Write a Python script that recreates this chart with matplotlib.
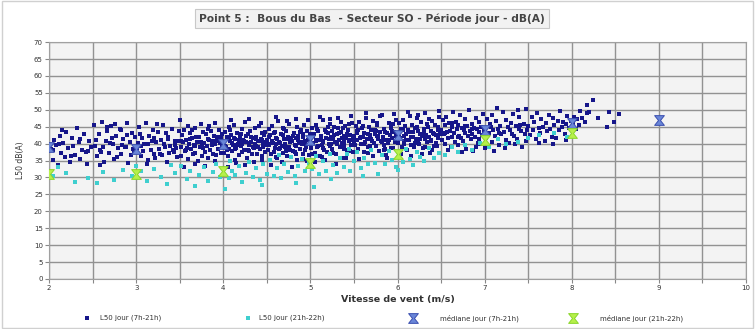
import numpy as np
import matplotlib
matplotlib.use("Agg")
import matplotlib.pyplot as plt
from matplotlib.path import Path
from matplotlib.patches import Rectangle

# L50 day-time samples (7h-21h): (wind speed m/s, level dB(A))
day_pts = [
    (2.02,38.5),(2.04,35.2),(2.06,41.0),(2.08,39.6),(2.1,33.8),(2.12,42.3),(2.14,37.1),(2.16,40.2),(2.18,36.0),(2.2,43.5),
    (2.22,38.8),(2.24,34.6),(2.26,41.8),(2.28,39.2),(2.3,36.7),(2.32,44.6),(2.34,40.5),(2.36,35.4),(2.38,38.0),(2.4,42.8),
    (2.42,37.6),(2.44,33.9),(2.46,40.9),(2.48,39.0),(2.05,38.2),(2.15,44.0),(2.25,36.4),(2.35,41.4),(2.45,37.9),(2.11,40.0),
    (2.51,45.6),(2.53,39.4),(2.55,36.2),(2.57,42.9),(2.59,38.1),(2.61,46.3),(2.63,34.7),(2.65,40.8),(2.67,43.7),(2.69,37.3),
    (2.71,45.1),(2.73,39.9),(2.75,35.5),(2.77,42.2),(2.79,38.6),(2.81,44.4),(2.83,36.9),(2.85,41.3),(2.87,39.0),(2.89,46.0),
    (2.91,34.2),(2.93,40.4),(2.95,43.1),(2.97,37.8),(2.99,41.9),(2.54,41.1),(2.6,37.5),(2.66,44.9),(2.72,41.7),(2.78,36.1),
    (2.84,39.5),(2.9,42.6),(2.96,38.4),(2.58,33.6),(2.7,40.1),(2.82,43.9),(2.94,36.6),(2.62,39.1),(2.76,45.8),(2.88,38.9),
    (3.01,38.7),(3.03,44.8),(3.05,36.3),(3.07,41.6),(3.09,39.8),(3.11,46.1),(3.13,35.1),(3.15,42.4),(3.17,38.2),(3.19,44.0),
    (3.21,37.0),(3.23,40.6),(3.25,43.3),(3.27,36.8),(3.29,41.1),(3.31,45.4),(3.33,38.9),(3.35,34.5),(3.37,42.0),(3.39,39.3),
    (3.41,44.2),(3.43,37.4),(3.45,40.9),(3.47,36.0),(3.49,43.6),(3.02,40.3),(3.08,37.7),(3.14,39.9),(3.2,41.8),(3.26,38.4),
    (3.32,40.0),(3.38,37.2),(3.44,39.6),(3.04,42.9),(3.12,33.9),(3.18,40.8),(3.24,45.9),(3.3,36.5),(3.36,41.4),(3.42,38.1),
    (3.48,40.7),(3.06,39.2),(3.22,35.8),(3.34,43.0),(3.46,38.6),
    (3.5,47.0),(3.51,39.1),(3.52,36.2),(3.53,42.5),(3.54,40.4),(3.55,44.1),(3.56,37.8),(3.57,41.2),(3.58,38.6),(3.59,45.3),
    (3.6,35.4),(3.61,40.0),(3.62,43.0),(3.63,38.3),(3.64,41.7),(3.65,36.9),(3.66,39.5),(3.67,44.7),(3.68,37.2),(3.69,42.1),
    (3.7,40.6),(3.71,34.8),(3.72,41.9),(3.73,38.9),(3.74,45.9),(3.75,39.7),(3.76,36.4),(3.77,43.4),(3.78,40.2),(3.79,37.6),
    (3.8,42.8),(3.81,39.3),(3.82,44.4),(3.83,35.9),(3.84,41.0),(3.85,38.0),(3.86,43.8),(3.87,40.8),(3.88,37.0),(3.89,42.3),
    (3.9,39.9),(3.91,46.2),(3.92,36.7),(3.93,41.5),(3.94,38.4),(3.95,44.0),(3.96,40.1),(3.97,37.3),(3.98,42.7),(3.99,39.0),
    (3.52,40.9),(3.57,38.0),(3.62,41.4),(3.67,39.4),(3.72,40.4),(3.77,38.7),(3.82,41.3),(3.87,39.6),(3.92,40.7),(3.97,41.8),
    (3.55,33.2),(3.68,34.1),(3.79,33.5),(3.9,35.0),(3.64,43.9),(3.84,45.1),(3.74,40.5),(3.94,42.0),
    (4.0,40.2),(4.01,37.1),(4.02,43.5),(4.03,39.0),(4.04,41.9),(4.05,36.2),(4.06,44.8),(4.07,38.4),(4.08,40.9),(4.09,42.6),
    (4.1,37.7),(4.11,39.5),(4.12,45.6),(4.13,35.3),(4.14,41.3),(4.15,38.8),(4.16,43.0),(4.17,40.0),(4.18,36.6),(4.19,42.2),
    (4.2,39.2),(4.21,44.3),(4.22,37.4),(4.23,41.1),(4.24,38.1),(4.25,46.4),(4.26,40.6),(4.27,35.8),(4.28,42.9),(4.29,39.7),
    (4.3,37.9),(4.31,43.7),(4.32,40.4),(4.33,36.9),(4.34,41.6),(4.35,38.6),(4.36,44.6),(4.37,39.3),(4.38,42.0),(4.39,37.0),
    (4.4,40.8),(4.41,45.2),(4.42,38.3),(4.43,41.4),(4.44,36.4),(4.45,43.2),(4.46,39.8),(4.47,42.5),(4.48,37.6),(4.49,40.5),
    (4.02,39.4),(4.06,41.7),(4.1,40.3),(4.14,38.5),(4.18,41.0),(4.22,39.9),(4.26,42.4),(4.3,40.1),(4.34,39.1),(4.38,41.5),
    (4.42,40.7),(4.46,38.9),(4.04,38.0),(4.08,43.9),(4.12,41.8),(4.16,39.6),(4.2,42.7),(4.24,40.9),(4.28,38.2),(4.32,42.1),
    (4.36,40.0),(4.4,39.0),(4.44,41.2),(4.48,43.4),(4.05,33.0),(4.15,34.2),(4.25,33.6),(4.35,34.7),(4.45,35.1),(4.09,46.9),
    (4.29,47.2),(4.43,46.0),
    (4.5,41.0),(4.51,38.2),(4.52,44.2),(4.53,39.6),(4.54,42.5),(4.55,36.8),(4.56,45.1),(4.57,40.3),(4.58,37.5),(4.59,43.3),
    (4.6,39.9),(4.61,41.8),(4.62,35.9),(4.63,46.6),(4.64,40.6),(4.65,38.7),(4.66,42.9),(4.67,39.3),(4.68,44.7),(4.69,37.2),
    (4.7,41.4),(4.71,40.0),(4.72,43.8),(4.73,36.3),(4.74,42.0),(4.75,39.1),(4.76,45.8),(4.77,38.0),(4.78,41.2),(4.79,40.8),
    (4.8,37.8),(4.81,43.0),(4.82,39.5),(4.83,47.3),(4.84,41.6),(4.85,35.2),(4.86,42.3),(4.87,40.2),(4.88,38.5),(4.89,44.0),
    (4.9,39.8),(4.91,41.9),(4.92,37.0),(4.93,45.4),(4.94,40.7),(4.95,38.9),(4.96,43.6),(4.97,41.1),(4.98,36.6),(4.99,42.8),
    (4.5,39.5),(4.53,42.1),(4.56,40.9),(4.59,38.6),(4.62,41.5),(4.65,40.1),(4.68,42.6),(4.71,39.0),(4.74,41.3),(4.77,40.5),
    (4.8,42.2),(4.83,39.4),(4.86,41.0),(4.89,40.4),(4.92,42.9),(4.95,39.7),(4.98,41.7),(4.52,40.0),(4.58,43.1),(4.64,38.3),
    (4.7,44.4),(4.76,41.8),(4.82,37.4),(4.88,43.5),(4.94,38.0),(4.55,33.8),(4.67,34.5),(4.79,33.1),(4.91,35.6),(4.61,47.9),
    (4.73,46.8),(4.97,47.0),(4.85,45.0),(4.6,36.0),(4.72,37.7),(4.84,36.9),(4.96,35.0),
    (5.0,41.5),(5.01,38.7),(5.02,44.6),(5.03,40.1),(5.04,42.9),(5.05,37.3),(5.06,45.5),(5.07,40.8),(5.08,39.0),(5.09,43.7),
    (5.1,41.2),(5.11,36.4),(5.12,42.4),(5.13,39.6),(5.14,46.9),(5.15,40.4),(5.16,38.1),(5.17,44.0),(5.18,41.8),(5.19,37.6),
    (5.2,43.1),(5.21,40.0),(5.22,45.9),(5.23,39.3),(5.24,42.0),(5.25,38.4),(5.26,41.4),(5.27,44.8),(5.28,40.6),(5.29,36.9),
    (5.3,42.7),(5.31,39.9),(5.32,47.6),(5.33,41.0),(5.34,38.9),(5.35,43.4),(5.36,40.3),(5.37,35.7),(5.38,42.2),(5.39,39.4),
    (5.4,45.2),(5.41,41.6),(5.42,38.0),(5.43,43.9),(5.44,40.9),(5.45,37.9),(5.46,42.5),(5.47,39.7),(5.48,46.2),(5.49,41.3),
    (5.0,39.9),(5.03,42.3),(5.06,41.1),(5.09,39.2),(5.12,41.9),(5.15,40.7),(5.18,43.3),(5.21,41.5),(5.24,39.8),(5.27,42.6),
    (5.3,40.2),(5.33,43.0),(5.36,41.7),(5.39,40.5),(5.42,42.8),(5.45,41.0),(5.48,39.6),(5.02,37.0),(5.08,44.3),(5.14,38.6),
    (5.2,45.0),(5.26,37.2),(5.32,44.5),(5.38,38.3),(5.44,45.7),(5.05,34.6),(5.17,35.3),(5.29,34.0),(5.41,35.9),(5.11,48.0),
    (5.23,47.4),(5.35,46.5),(5.47,48.3),(5.13,36.1),(5.25,43.8),(5.37,44.7),(5.49,37.5),
    (5.5,42.4),(5.51,39.5),(5.52,45.3),(5.53,41.0),(5.54,43.7),(5.55,38.3),(5.56,46.4),(5.57,41.7),(5.58,39.9),(5.59,44.5),
    (5.6,42.0),(5.61,37.4),(5.62,43.2),(5.63,40.4),(5.64,47.7),(5.65,41.3),(5.66,38.9),(5.67,44.9),(5.68,42.6),(5.69,38.2),
    (5.7,43.9),(5.71,40.8),(5.72,46.8),(5.73,40.1),(5.74,42.9),(5.75,39.2),(5.76,42.2),(5.77,45.6),(5.78,41.5),(5.79,37.8),
    (5.8,43.5),(5.81,40.7),(5.82,48.4),(5.83,41.9),(5.84,39.7),(5.85,44.2),(5.86,41.1),(5.87,36.5),(5.88,43.0),(5.89,40.3),
    (5.9,46.0),(5.91,42.5),(5.92,38.7),(5.93,44.7),(5.94,41.8),(5.95,38.6),(5.96,43.3),(5.97,40.5),(5.98,47.1),(5.99,42.1),
    (5.5,40.6),(5.54,43.1),(5.58,42.0),(5.62,40.0),(5.66,42.7),(5.7,41.4),(5.74,44.1),(5.78,42.3),(5.82,40.6),(5.86,43.4),
    (5.9,41.0),(5.94,43.8),(5.98,42.4),(5.52,37.6),(5.6,45.1),(5.68,39.4),(5.76,46.2),(5.84,38.1),(5.92,45.5),(5.56,35.5),
    (5.72,36.2),(5.88,35.8),(5.64,49.0),(5.8,48.1),(5.96,48.8),(5.66,37.1),(5.86,38.4),(5.55,44.0),(5.75,43.6),(5.95,45.8),
    (6.0,43.0),(6.01,40.2),(6.02,46.0),(6.03,41.8),(6.04,44.4),(6.05,39.1),(6.06,47.0),(6.07,42.4),(6.08,40.7),(6.09,45.2),
    (6.1,42.8),(6.11,38.2),(6.12,43.9),(6.13,41.2),(6.14,48.3),(6.15,42.0),(6.16,39.7),(6.17,45.6),(6.18,43.4),(6.19,38.9),
    (6.2,44.6),(6.21,41.5),(6.22,47.5),(6.23,40.9),(6.24,43.6),(6.25,40.0),(6.26,42.9),(6.27,46.3),(6.28,42.2),(6.29,38.6),
    (6.3,44.2),(6.31,41.4),(6.32,49.1),(6.33,42.6),(6.34,40.4),(6.35,44.9),(6.36,41.9),(6.37,37.3),(6.38,43.7),(6.39,41.0),
    (6.4,46.7),(6.41,43.2),(6.42,39.4),(6.43,45.4),(6.44,42.5),(6.45,39.3),(6.46,44.0),(6.47,41.6),(6.48,47.8),(6.49,42.7),
    (6.02,42.0),(6.06,44.1),(6.1,41.1),(6.14,43.3),(6.18,41.9),(6.22,44.8),(6.26,41.3),(6.3,43.0),(6.34,45.9),(6.38,40.8),
    (6.42,42.9),(6.46,45.0),(6.04,37.0),(6.16,36.4),(6.28,36.9),(6.4,38.0),(6.12,49.4),(6.24,48.6),(6.36,47.3),(6.48,49.6),
    (6.08,39.8),(6.2,40.3),(6.32,39.0),(6.44,40.1),
    (6.5,44.0),(6.51,41.2),(6.52,46.9),(6.53,42.7),(6.54,45.4),(6.55,39.9),(6.56,48.0),(6.57,43.3),(6.58,41.6),(6.59,46.1),
    (6.6,43.8),(6.61,39.0),(6.62,44.8),(6.63,42.1),(6.64,49.2),(6.65,43.0),(6.66,40.6),(6.67,46.5),(6.68,44.3),(6.69,39.6),
    (6.7,45.5),(6.71,42.4),(6.72,48.5),(6.73,41.8),(6.74,44.6),(6.75,40.9),(6.76,43.9),(6.77,47.2),(6.78,43.1),(6.79,38.4),
    (6.8,45.2),(6.81,42.3),(6.82,49.8),(6.83,43.6),(6.84,41.3),(6.85,45.8),(6.86,42.9),(6.87,37.9),(6.88,44.7),(6.89,42.0),
    (6.9,47.6),(6.91,44.2),(6.92,40.3),(6.93,46.3),(6.94,43.4),(6.95,40.0),(6.96,45.0),(6.97,42.6),(6.98,48.7),(6.99,43.7),
    (6.54,43.0),(6.62,46.0),(6.7,41.9),(6.78,45.1),(6.86,44.4),(6.94,41.5),(6.58,38.0),(6.74,37.6),(6.9,38.9),
    (7.0,44.5),(7.02,41.8),(7.03,47.3),(7.05,43.1),(7.06,45.9),(7.08,40.4),(7.09,48.6),(7.1,43.9),(7.12,42.2),(7.13,46.7),
    (7.15,44.3),(7.16,39.5),(7.18,45.3),(7.19,42.8),(7.21,49.4),(7.22,43.5),(7.24,41.1),(7.25,47.0),(7.27,44.8),(7.28,40.1),
    (7.3,46.0),(7.31,42.9),(7.33,48.9),(7.34,42.3),(7.36,45.2),(7.37,41.4),(7.39,44.4),(7.4,47.8),(7.42,43.6),(7.43,39.0),
    (7.45,45.7),(7.46,42.8),(7.48,50.2),(7.49,44.1),(7.01,38.6),(7.11,37.9),(7.23,38.8),(7.35,39.8),(7.47,40.7),(7.07,45.0),
    (7.17,43.0),(7.29,44.0),(7.41,45.5),(7.14,50.5),(7.38,49.9),
    (7.5,45.3),(7.52,42.6),(7.54,47.9),(7.55,44.0),(7.57,46.5),(7.59,41.4),(7.6,49.0),(7.62,44.6),(7.64,43.0),(7.65,47.2),
    (7.67,45.0),(7.69,40.9),(7.7,46.1),(7.72,43.7),(7.74,48.4),(7.75,44.3),(7.77,42.1),(7.79,47.6),(7.8,45.6),(7.82,41.8),
    (7.84,46.8),(7.85,43.9),(7.87,49.5),(7.89,44.9),(7.9,46.3),(7.92,42.9),(7.94,45.9),(7.95,48.1),(7.97,44.7),(7.99,46.6),
    (7.63,40.2),(7.78,39.8),(7.93,41.2),
    (8.01,46.0),(8.03,48.0),(8.05,44.3),(8.06,47.2),(8.08,45.5),(8.1,49.5),(8.12,47.5),(8.15,46.4),(8.18,51.5),(8.24,52.9),
    (8.18,49.0),(8.3,47.7),(8.41,45.0),(8.43,49.4),(8.48,46.5),(8.54,48.8),(8.2,49.2),
]

# L50 evening samples (21h-22h)
eve_pts = [
    (2.05,30.5),(2.1,33.0),(2.3,28.8),(2.45,29.8),(2.55,28.3),(2.62,31.5),(2.75,29.4),(2.85,32.2),(2.95,30.4),(3.05,31.8),
    (3.12,29.1),(3.2,32.6),(3.28,30.0),(3.35,28.0),(3.45,31.2),(3.52,33.5),(3.58,29.6),(3.62,31.9),(3.68,27.4),(3.72,30.8),
    (3.78,33.0),(3.82,29.0),(3.88,31.5),(3.92,34.0),(3.96,30.2),(4.02,26.5),(4.06,29.8),(4.1,32.0),(4.14,30.6),(4.18,33.4),
    (4.22,28.7),(4.26,31.3),(4.3,34.6),(4.34,30.1),(4.38,32.7),(4.42,29.4),(4.46,33.9),(4.5,31.0),(4.54,35.2),(4.58,30.5),
    (4.62,32.9),(4.66,29.7),(4.7,34.1),(4.74,31.6),(4.78,36.0),(4.82,30.3),(4.86,33.3),(4.9,35.5),(4.94,31.9),(4.98,34.4),
    (5.02,32.4),(5.06,36.3),(5.1,30.9),(5.14,34.8),(5.18,32.0),(5.22,37.0),(5.26,33.6),(5.3,31.4),(5.34,35.7),(5.38,33.0),
    (5.42,36.8),(5.46,31.8),(5.5,34.9),(5.54,37.5),(5.58,32.8),(5.62,35.8),(5.66,33.9),(5.7,38.0),(5.74,34.3),(5.78,31.0),
    (5.82,36.5),(5.86,34.0),(5.9,37.9),(5.94,35.1),(5.98,33.2),(6.02,36.9),(6.06,34.5),(6.1,38.3),(6.14,35.4),(6.18,33.6),
    (6.22,37.6),(6.26,36.0),(6.3,34.8),(6.36,38.6),(6.42,35.9),(6.48,37.2),(6.55,36.6),(6.62,38.9),(6.7,37.4),(6.78,39.5),
    (6.86,38.1),(6.95,40.2),(7.05,39.0),(7.15,41.3),(7.25,39.8),(7.38,40.6),(7.5,41.8),(7.62,42.5),(7.8,43.2),(7.95,42.0),
    (3.4,33.8),(3.0,33.5),(2.2,31.2),(4.84,28.4),(5.24,29.6),(4.44,27.9),(5.6,30.4),(6.0,32.3),(4.08,35.0),(4.64,36.6),
    (5.44,38.4),(5.04,27.2),
]

# Medians per wind-speed class
median_speed_day = [2, 3, 4, 5, 6, 7, 8, 9]
median_day = [39.0, 38.5, 40.0, 41.0, 42.5, 44.0, 46.0, 47.0]
median_speed_eve = [2, 3, 4, 5, 6, 7, 8]
median_eve = [31.0, 31.0, 31.8, 34.4, 36.8, 41.2, 43.2]

title = "Point 5 :  Bous du Bas  - Secteur SO - Période jour - dB(A)"
x_label = "Vitesse de vent (m/s)"
y_label = "L50 dB(A)"
legend_labels = ["L50 jour (7h-21h)", "L50 jour (21h-22h)",
                 "médiane jour (7h-21h)", "médiane jour (21h-22h)"]

plt.rcParams['font.family'] = ['DejaVu Sans']

fig = plt.figure(figsize=(7.55, 3.29), dpi=100)
fig.patch.set_facecolor("white")
fig.add_artist(Rectangle((0.003, 0.004), 0.994, 0.992, transform=fig.transFigure,
                         fill=False, edgecolor="#d0d0d0", linewidth=1.0))

ax = fig.add_axes([0.065, 0.152, 0.923, 0.72])
ax.set_facecolor("#f3f3f3")

# hourglass marker for medians
hourglass = Path([(-1, 1), (1, 1), (0.2, 0), (1, -1), (-1, -1), (-0.2, 0), (-1, 1)],
                 [Path.MOVETO, Path.LINETO, Path.LINETO, Path.LINETO,
                  Path.LINETO, Path.LINETO, Path.CLOSEPOLY])

dx, dy = zip(*day_pts)
ex, ey = zip(*eve_pts)
h1 = ax.scatter(dx, dy, s=5, marker="s", color="#16168a", linewidths=0, zorder=3)
h2 = ax.scatter(ex, ey, s=5, marker="s", color="#3fcfcf", linewidths=0, zorder=3)
h3, = ax.plot(median_speed_day, median_day, linestyle="none", marker=hourglass,
              markersize=7, markerfacecolor="#6a86d8", markeredgecolor="#3a4fb0",
              markeredgewidth=0.7, zorder=4)
h4, = ax.plot(median_speed_eve, median_eve, linestyle="none", marker=hourglass,
              markersize=7, markerfacecolor="#b6f04a", markeredgecolor="#8ad62a",
              markeredgewidth=0.7, zorder=5)

ax.set_xlim(2, 10)
ax.set_ylim(0, 70)
ax.set_xticks(np.arange(2, 11, 1))
ax.set_xticks(np.arange(2, 10.01, 0.5), minor=True)
ax.set_yticks(np.arange(0, 71, 5))
ax.grid(True, which="both", axis="x", color="#929292", linewidth=1.0, zorder=0)
ax.grid(True, which="major", axis="y", color="#929292", linewidth=1.0, zorder=0)
ax.set_axisbelow(True)
ax.tick_params(axis="both", which="both", direction="out", length=3, width=0.8,
               color="#888888", labelsize=5, labelcolor="#333333", pad=1.5)
for s in ax.spines.values():
    s.set_color("#a0a0a0")
    s.set_linewidth(0.8)

ax.set_xlabel(x_label, fontsize=6.8, fontweight="bold", color="#333333", labelpad=3)
ax.set_ylabel(y_label, fontsize=5.5, color="#333333", labelpad=6)

fig.text(0.493, 0.944, title, ha="center", va="center", fontsize=7.7, fontweight="bold",
         color="#444444",
         bbox=dict(boxstyle="square,pad=0.4", facecolor="#f2f2f2", edgecolor="#c8c8c8",
                   linewidth=0.8))

# one legend entry per slot along the bottom
W = 755.0
handles = [h1, h2, h3, h4]
slot_left = [80, 241, 406, 566]          # handle left edge, px
text_pad = [0.9, 0.6, 2.9, 2.9]          # gap between handle and text, em
for h, lab, left, pad in zip(handles, legend_labels, slot_left, text_pad):
    fig.legend([h], [lab], loc="center left", bbox_to_anchor=(left / W, 0.034),
               frameon=False, fontsize=5, handletextpad=pad, borderpad=0,
               borderaxespad=0, labelcolor="#333333")

fig.savefig("out.png", dpi=100, facecolor="white")
